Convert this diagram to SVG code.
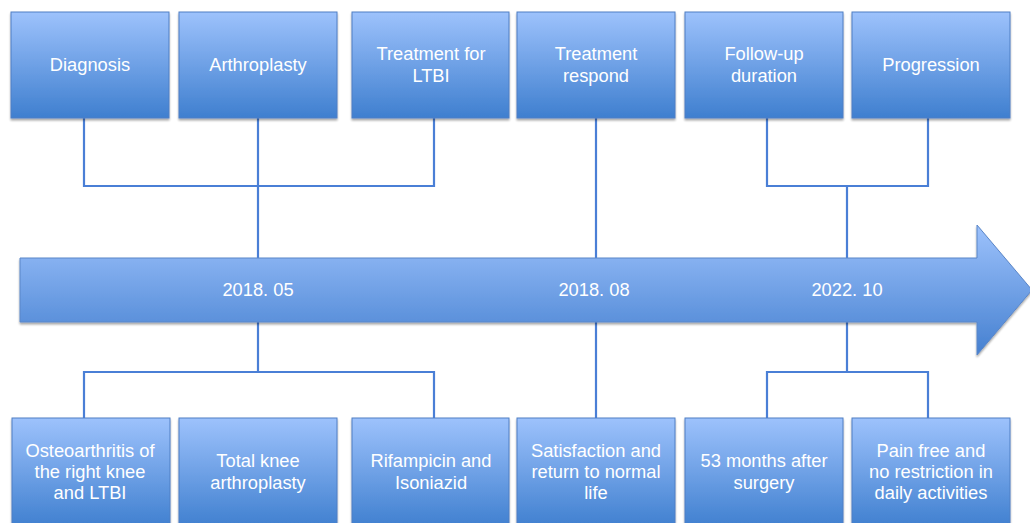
<svg xmlns="http://www.w3.org/2000/svg" width="1030" height="523" viewBox="0 0 1030 523">
<defs>
<linearGradient id="g" x1="0" y1="0" x2="0" y2="1">
<stop offset="0" stop-color="#9dc2fc"/>
<stop offset="1" stop-color="#3f7fcf"/>
</linearGradient>
<linearGradient id="ga" x1="0" y1="0" x2="0" y2="1">
<stop offset="0" stop-color="#9dc2fc"/>
<stop offset="1" stop-color="#4580d0"/>
</linearGradient>
<filter id="sh" x="-10%" y="-10%" width="120%" height="130%">
<feGaussianBlur in="SourceAlpha" stdDeviation="1.2"/>
<feOffset dx="0" dy="1.5" result="b"/>
<feComponentTransfer><feFuncA type="linear" slope="0.35"/></feComponentTransfer>
<feMerge><feMergeNode/><feMergeNode in="SourceGraphic"/></feMerge>
</filter>
</defs>
<style>
.box{fill:url(#g);stroke:#4f7fc4;stroke-width:1;filter:url(#sh)}
.t{font-family:"Liberation Sans",Arial,sans-serif;font-size:18.3px;fill:#ffffff;text-anchor:middle}
.c{fill:none;stroke:#4a7fd6;stroke-width:2.2}
</style>
<g id="connectors">
<path class="c" d="M84 118V186H434V118M258 118V258"/>
<path class="c" d="M596 118V258"/>
<path class="c" d="M767 118V186H928V118M847 186V258"/>
<path class="c" d="M258 321V372M84 418V372H434V418"/>
<path class="c" d="M596 321V418"/>
<path class="c" d="M847 321V372M767 418V372H928V418"/>
</g>
<g id="timeline">
<path d="M20 258H977V225L1032 290L977 355V322H20Z" fill="url(#ga)" stroke="#5a86c8" stroke-width="1" filter="url(#sh)"/>
<text class="t" x="258" y="296">2018. 05</text>
<text class="t" x="594" y="296">2018. 08</text>
<text class="t" x="847" y="296">2022. 10</text>
</g>
<g id="n1"><rect class="box" x="11" y="12" width="158" height="106"/><text class="t" x="90" y="71">Diagnosis</text></g>
<g id="n2"><rect class="box" x="179" y="12" width="158" height="106"/><text class="t" x="258" y="71">Arthroplasty</text></g>
<g id="n3"><rect class="box" x="352" y="12" width="157" height="106"/><text class="t" x="431" y="60">Treatment for</text><text class="t" x="431" y="82">LTBI</text></g>
<g id="n4"><rect class="box" x="517" y="12" width="158" height="106"/><text class="t" x="596" y="60">Treatment</text><text class="t" x="596" y="82">respond</text></g>
<g id="n5"><rect class="box" x="685" y="12" width="158" height="106"/><text class="t" x="764" y="60">Follow-up</text><text class="t" x="764" y="82">duration</text></g>
<g id="n6"><rect class="box" x="852" y="12" width="158" height="106"/><text class="t" x="931" y="71">Progression</text></g>
<g id="b1"><rect class="box" x="12" y="418" width="158" height="110"/><text class="t" x="90" y="457">Osteoarthritis of</text><text class="t" x="90" y="478">the right knee</text><text class="t" x="90" y="499">and LTBI</text></g>
<g id="b2"><rect class="box" x="179" y="418" width="158" height="110"/><text class="t" x="258" y="467">Total knee</text><text class="t" x="258" y="489">arthroplasty</text></g>
<g id="b3"><rect class="box" x="352" y="418" width="157" height="110"/><text class="t" x="431" y="467">Rifampicin and</text><text class="t" x="431" y="489">Isoniazid</text></g>
<g id="b4"><rect class="box" x="517" y="418" width="158" height="110"/><text class="t" x="596" y="457">Satisfaction and</text><text class="t" x="596" y="478">return to normal</text><text class="t" x="596" y="499">life</text></g>
<g id="b5"><rect class="box" x="685" y="418" width="158" height="110"/><text class="t" x="764" y="467">53 months after</text><text class="t" x="764" y="489">surgery</text></g>
<g id="b6"><rect class="box" x="852" y="418" width="158" height="110"/><text class="t" x="931" y="457">Pain free and</text><text class="t" x="931" y="478">no restriction in</text><text class="t" x="931" y="499">daily activities</text></g>
</svg>
